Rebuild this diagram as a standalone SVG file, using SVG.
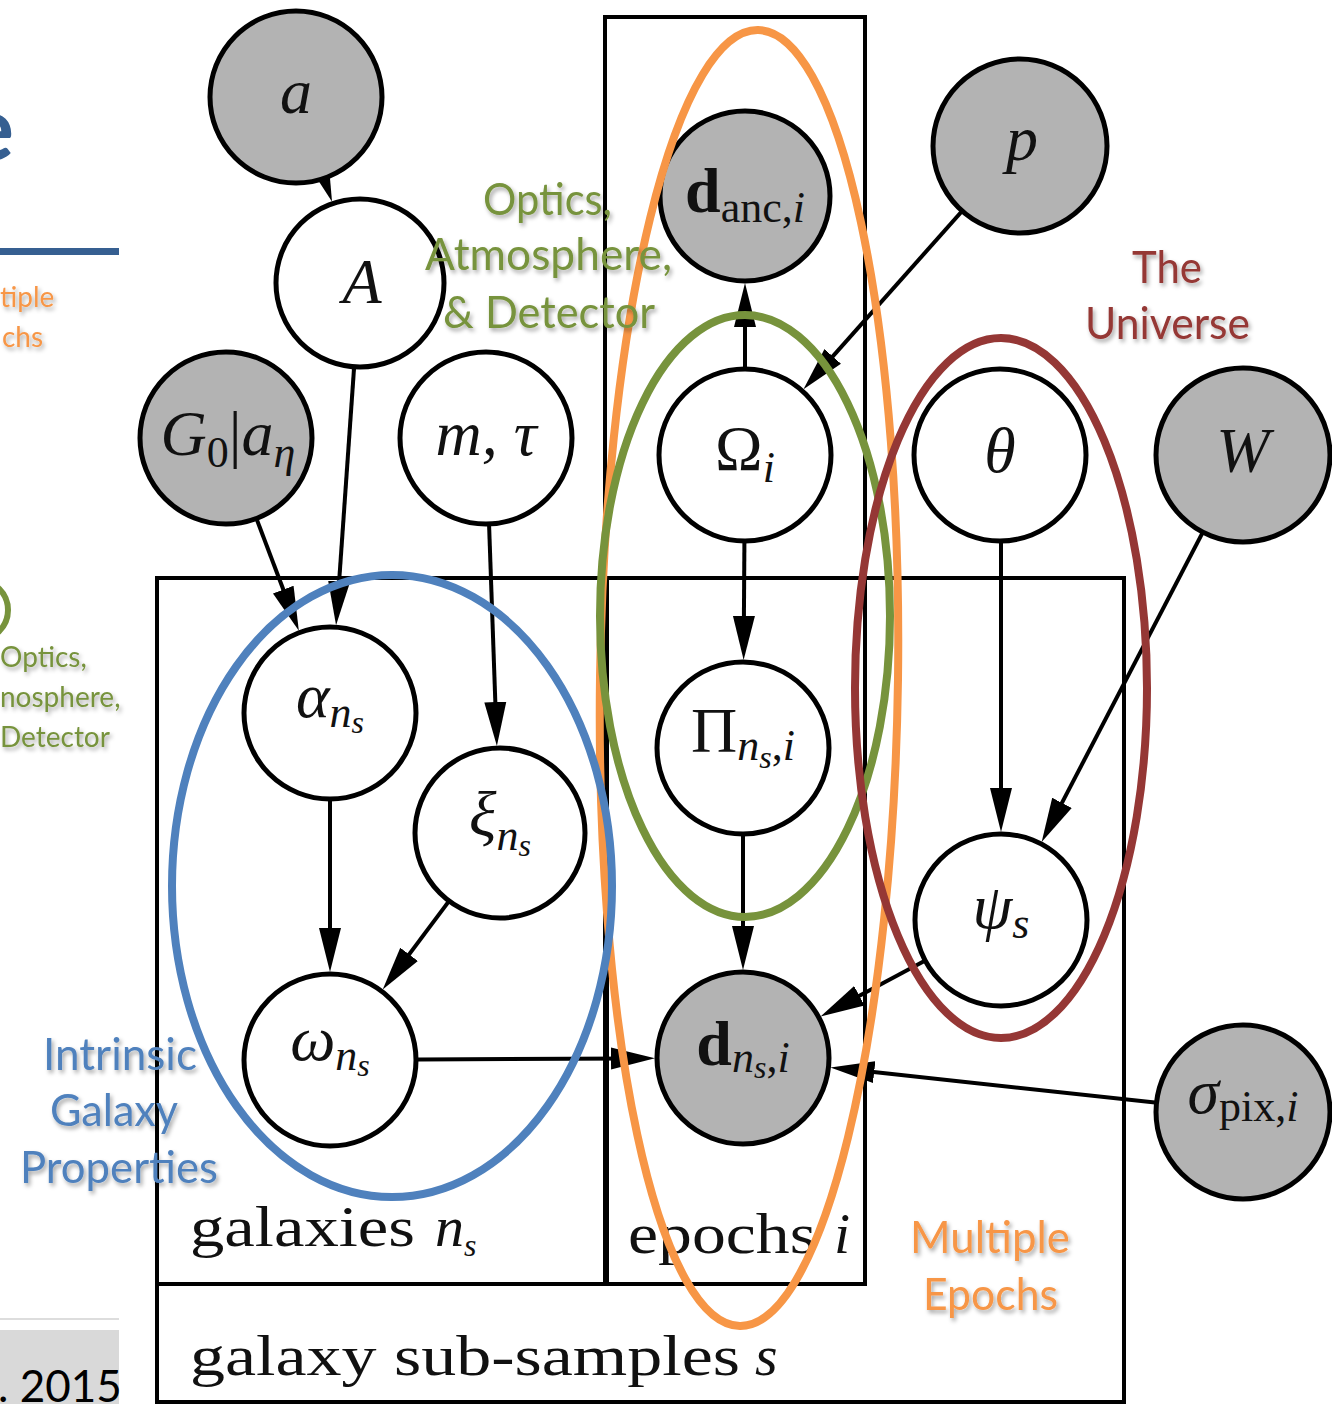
<svg xmlns="http://www.w3.org/2000/svg" width="1332" height="1404" viewBox="0 0 1332 1404">
<style>
.node{stroke:#000;stroke-width:5}
.obs{fill:#b3b3b3}
.lat{fill:#fff}
.edge{stroke:#000;stroke-width:4;fill:none;marker-end:url(#arr)}
.plate{fill:none;stroke:#000;stroke-width:4}
.m{font-family:"Liberation Serif","DejaVu Serif",serif;font-size:64px;fill:#111}
.i{font-style:italic}
.up{font-style:normal}
.sub{font-size:44px}
.ss{font-size:32px}
.pl{font-family:"Liberation Serif","DejaVu Serif",serif;font-size:58px;fill:#111}
.c{font-family:Lato,"Open Sans","Liberation Sans",sans-serif;font-size:44px;filter:url(#sh)}
.g{fill:#77933c}
.o{fill:#f79646}
.r{fill:#953735}
.b{fill:#4f81bd}
.ring{fill:none;stroke-width:8}
</style>
<defs>
<marker id="arr" markerUnits="userSpaceOnUse" markerWidth="44" markerHeight="24" viewBox="0 0 44 24" refX="19" refY="12" orient="auto">
<path d="M0,1 L44,12 L0,23 z" fill="#000"/>
</marker>
<filter id="sh" x="-10%" y="-30%" width="130%" height="170%">
<feDropShadow dx="2" dy="3" stdDeviation="2" flood-color="#000" flood-opacity="0.35"/>
</filter>
</defs>
<rect width="1332" height="1404" fill="#fff"/>

<!-- left slide fragments -->
<g id="slide-left">
<text x="14" y="160" text-anchor="end" font-family="Lato,'Open Sans',sans-serif" font-weight="bold" font-size="90" fill="#365f91">e</text>
<rect x="0" y="248" width="119" height="7" fill="#365f91"/>
<text x="0" y="307" class="c o" font-size="28" style="font-size:28px">tiple</text>
<text x="2" y="347" class="c o" style="font-size:28px">chs</text>
<circle cx="-22" cy="610" r="30" fill="none" stroke="#77933c" stroke-width="6"/>
<text x="0" y="667" class="c g" style="font-size:28px">Optics,</text>
<text x="0" y="707" class="c g" style="font-size:28px">nosphere,</text>
<text x="0" y="747" class="c g" style="font-size:28px">Detector</text>
<line x1="0" y1="1319" x2="119" y2="1319" stroke="#ddd" stroke-width="2"/>
<rect x="0" y="1330" width="119" height="74" fill="#d9d9d9"/>
<text x="-2" y="1402" font-family="Lato,'Open Sans',sans-serif" font-size="44" fill="#000">. 2015</text>
</g>

<!-- plates -->
<g id="plates">
<rect class="plate" x="157" y="578" width="967" height="824"/>
<rect class="plate" x="157" y="578" width="450" height="706"/>
<rect class="plate" x="605" y="17" width="260" height="1267"/>
<text class="pl" x="190" y="1246" textLength="225" lengthAdjust="spacingAndGlyphs">galaxies</text>
<text class="pl i" x="435" y="1246">n<tspan class="ss" dy="10">s</tspan></text>
<text class="pl" x="628" y="1253" textLength="188" lengthAdjust="spacingAndGlyphs">epochs</text>
<text class="pl i" x="834" y="1253">i</text>
<text class="pl" x="190" y="1375" textLength="550" lengthAdjust="spacingAndGlyphs">galaxy sub-samples</text>
<text class="pl i" x="755" y="1375">s</text>
</g>

<!-- connectors -->
<g id="connectors">
<path class="edge" d="M296,97 L323.9,178"/>
<path class="edge" d="M360,283 L337.8,600.3"/>
<path class="edge" d="M226,438 L290,607.3"/>
<path class="edge" d="M486,438 L496,721"/>
<path class="edge" d="M330,713 L330,947"/>
<path class="edge" d="M500,833 L397.7,969.6"/>
<path class="edge" d="M330,1060 L630,1058.5"/>
<path class="edge" d="M745,455 L745,308"/>
<path class="edge" d="M1020,146 L820.1,370.6"/>
<path class="edge" d="M745,455 L743.8,635"/>
<path class="edge" d="M743,748 L743,945"/>
<path class="edge" d="M1001,455 L1001,807"/>
<path class="edge" d="M1243,455 L1053.2,819.7"/>
<path class="edge" d="M1001,920 L842.6,1004.7"/>
<path class="edge" d="M1243,1112 L855.3,1070.1"/>
</g>

<!-- nodes -->
<g id="node-a"><circle class="node obs" cx="296" cy="97" r="86"/><text class="m i" x="296" y="113" text-anchor="middle">a</text></g>
<g id="node-A"><circle class="node lat" cx="360" cy="283" r="84"/><text class="m i" x="362" y="303" text-anchor="middle">A</text></g>
<g id="node-G0"><circle class="node obs" cx="226" cy="438" r="86"/><text class="m i" x="228" y="455" text-anchor="middle">G<tspan class="sub up" dy="12">0</tspan><tspan class="up" dy="-12">|</tspan>a<tspan class="sub" dy="12">η</tspan></text></g>
<g id="node-mtau"><circle class="node lat" cx="486" cy="438" r="86"/><text class="m i" x="486" y="455" text-anchor="middle">m, τ</text></g>
<g id="node-danc"><circle class="node obs" cx="745" cy="196" r="85"/><text class="m" x="745" y="212" text-anchor="middle"><tspan font-weight="bold">d</tspan><tspan class="sub" dy="10">anc,</tspan><tspan class="sub i">i</tspan></text></g>
<g id="node-p"><circle class="node obs" cx="1020" cy="146" r="87"/><text class="m i" x="1022" y="160" text-anchor="middle">p</text></g>
<g id="node-Omega"><circle class="node lat" cx="745" cy="455" r="86"/><text class="m" x="745" y="470" text-anchor="middle">Ω<tspan class="sub i" dy="12">i</tspan></text></g>
<g id="node-theta"><circle class="node lat" cx="1000" cy="455" r="86"/><text class="m i" x="1000" y="472" text-anchor="middle">θ</text></g>
<g id="node-W"><circle class="node obs" cx="1243" cy="455" r="87"/><text class="m i" x="1243" y="472" text-anchor="middle">W</text></g>
<g id="node-alpha"><circle class="node lat" cx="330" cy="713" r="86"/><text class="m i" x="330" y="717" text-anchor="middle">α<tspan class="sub" dy="10">n</tspan><tspan class="ss" dy="6">s</tspan></text></g>
<g id="node-xi"><circle class="node lat" cx="500" cy="833" r="85"/><text class="m i" x="500" y="836" text-anchor="middle">ξ<tspan class="sub" dy="14">n</tspan><tspan class="ss" dy="6">s</tspan></text></g>
<g id="node-Pi"><circle class="node lat" cx="743" cy="748" r="86"/><text class="m" x="743" y="752" text-anchor="middle">Π<tspan class="sub i" dy="8">n</tspan><tspan class="ss i" dy="8">s</tspan><tspan class="sub" dy="-8">,</tspan><tspan class="sub i">i</tspan></text></g>
<g id="node-psi"><circle class="node lat" cx="1001" cy="920" r="86"/><text class="m i" x="1001" y="928" text-anchor="middle">ψ<tspan class="sub" dy="10">s</tspan></text></g>
<g id="node-omega"><circle class="node lat" cx="330" cy="1060" r="86"/><text class="m i" x="330" y="1060" text-anchor="middle">ω<tspan class="sub" dy="10">n</tspan><tspan class="ss" dy="6">s</tspan></text></g>
<g id="node-dns"><circle class="node obs" cx="743" cy="1058" r="86"/><text class="m" x="743" y="1065" text-anchor="middle"><tspan font-weight="bold">d</tspan><tspan class="sub i" dy="7">n</tspan><tspan class="ss i" dy="6">s</tspan><tspan class="sub" dy="-6">,</tspan><tspan class="sub i">i</tspan></text></g>
<g id="node-sigma"><circle class="node obs" cx="1243" cy="1112" r="87"/><text class="m" x="1243" y="1113" text-anchor="middle"><tspan class="i">σ</tspan><tspan class="sub" dy="8">pix,</tspan><tspan class="sub i">i</tspan></text></g>

<!-- highlight rings -->
<g id="rings">
<ellipse class="ring" cx="749" cy="678" rx="149" ry="648" stroke="#f79646" transform="rotate(0.8 749 678)"/>
<ellipse class="ring" cx="745" cy="616" rx="145" ry="301" stroke="#77933c"/>
<ellipse class="ring" cx="392" cy="886" rx="220" ry="311" stroke="#4f81bd"/>
<ellipse class="ring" cx="1001" cy="688" rx="146" ry="350" stroke="#953735"/>
</g>

<!-- group labels -->
<g id="labels">
<text class="c g" x="483" y="215" textLength="129" lengthAdjust="spacingAndGlyphs">Optics,</text>
<text class="c g" x="425" y="270" textLength="247" lengthAdjust="spacingAndGlyphs">Atmosphere,</text>
<text class="c g" x="443" y="328" textLength="212" lengthAdjust="spacingAndGlyphs">&amp; Detector</text>
<text class="c r" x="1132" y="283" textLength="70" lengthAdjust="spacingAndGlyphs">The</text>
<text class="c r" x="1085" y="339" textLength="165" lengthAdjust="spacingAndGlyphs">Universe</text>
<text class="c b" x="43" y="1070" textLength="154" lengthAdjust="spacingAndGlyphs">Intrinsic</text>
<text class="c b" x="50" y="1126" textLength="128" lengthAdjust="spacingAndGlyphs">Galaxy</text>
<text class="c b" x="20" y="1183" textLength="198" lengthAdjust="spacingAndGlyphs">Properties</text>
<text class="c o" x="910" y="1253" textLength="160" lengthAdjust="spacingAndGlyphs">Multiple</text>
<text class="c o" x="923" y="1310" textLength="135" lengthAdjust="spacingAndGlyphs">Epochs</text>
</g>
</svg>
